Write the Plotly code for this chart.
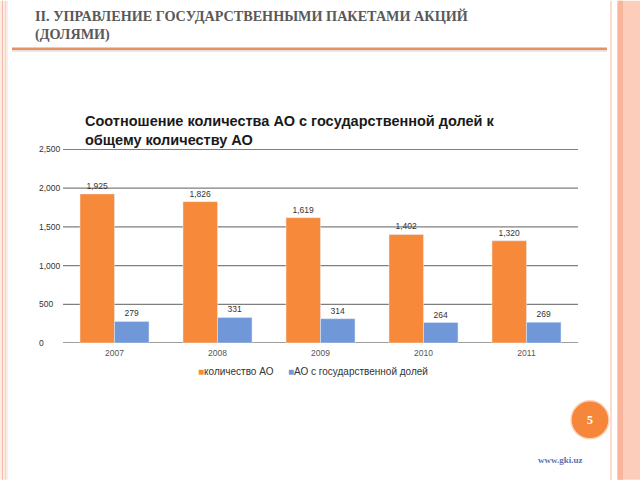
import plotly.graph_objects as go

years = ["2007", "2008", "2009", "2010", "2011"]
total_ao = [1925, 1826, 1619, 1402, 1320]
state_ao = [279, 331, 314, 264, 269]
y_ticks = [0, 500, 1000, 1500, 2000, 2500]
y_tick_text = ["0", "500", "1,000", "1,500", "2,000", "2,500"]
series_names = ["количество АО", "АО с государственной долей"]

W, H = 640, 480
L, R, T, B = 63, 578, 149, 343
YMAX = 2506
T = B - (B - 149) * YMAX / 2500

def px(x):
    return (x - L) / (R - L)

def py(y):
    return (B - y) / (B - T)

ORANGE = "#F7893A"
BLUE = "#7097D8"
colors = [ORANGE, BLUE]

fig = go.Figure()
for name, vals, col in zip(series_names, [total_ao, state_ao], colors):
    fig.add_trace(go.Bar(
        x=years, y=vals, name=name, marker_color=col,
        text=[f"{v:,}" for v in vals], textposition="outside",
        textfont=dict(size=8.5, color="#333333", family="Liberation Sans"),
        cliponaxis=False, showlegend=False,
    ))

annotations = []
shapes = []
for v, t in zip(y_ticks, y_tick_text):
    annotations.append(dict(
        x=px(37), xref="paper", y=v, yref="y", text=t, showarrow=False,
        xanchor="left", yanchor="middle",
        font=dict(size=8.5, color="#333333", family="Liberation Sans"),
    ))
    shapes.append(dict(type="line", xref="paper", yref="y", x0=0, x1=1, y0=v, y1=v,
                       line=dict(color="#7F7F7F", width=1.3), layer="below"))

# legend drawn as text with coloured squares
legend_x = [196, 286]
for name, col, lx in zip(series_names, colors, legend_x):
    annotations.append(dict(
        x=px(lx), xref="paper", y=py(372), yref="paper",
        text=f"<span style='color:{col}'>■</span>{name}",
        showarrow=False, xanchor="left", yanchor="middle",
        font=dict(size=10, color="#333333", family="Liberation Sans"),
    ))

# chart title
annotations.append(dict(
    x=px(83), xref="paper", y=py(110), yref="paper",
    text="<b>Соотношение количества АО с государственной долей к<br>общему количеству АО</b>",
    showarrow=False, xanchor="left", yanchor="top", align="left",
    font=dict(size=14.5, color="#1a1a1a", family="Liberation Sans"),
))
# slide header
annotations.append(dict(
    x=px(33), xref="paper", y=py(5), yref="paper",
    text="<b>II. УПРАВЛЕНИЕ ГОСУДАРСТВЕННЫМИ ПАКЕТАМИ АКЦИЙ<br>(ДОЛЯМИ)</b>",
    showarrow=False, xanchor="left", yanchor="top", align="left",
    font=dict(size=14.2, color="#595959", family="Liberation Serif"),
))
# page number
annotations.append(dict(
    x=px(590), xref="paper", y=py(420), yref="paper", text="<b>5</b>",
    showarrow=False, xanchor="center", yanchor="middle",
    font=dict(size=12, color="white", family="Liberation Serif"),
))
annotations.append(dict(
    x=px(585), xref="paper", y=py(460), yref="paper", text="<b>www.gki.uz</b>",
    showarrow=False, xanchor="right", yanchor="middle",
    font=dict(size=9, color="#5A6FB0", family="Liberation Serif"),
))

def rect(x0, x1, y0, y1, color):
    shapes.append(dict(type="rect", xref="paper", yref="paper",
                       x0=px(x0), x1=px(x1), y0=py(y0), y1=py(y1),
                       fillcolor=color, line=dict(width=0), layer="below"))

# left border
rect(0, 8, 0, 480, "#FDEDE7")
rect(2, 3, 0, 480, "#F5BBA6")
rect(5, 6, 0, 480, "#F8CFC0")
# right border
rect(610, 612, 0, 480, "#FCDCCF")
rect(617, 640, 0, 480, "#FDCDBB")
rect(618, 623, 0, 480, "#F9B59C")
# header line
shapes.append(dict(type="line", xref="paper", yref="paper",
                   x0=px(12), x1=px(607), y0=py(50), y1=py(50),
                   line=dict(color="#E5E0DD", width=2)))
shapes.append(dict(type="line", xref="paper", yref="paper",
                   x0=px(12), x1=px(607), y0=py(48), y1=py(48),
                   line=dict(color="#E8915F", width=2.5)))
# page circle
shapes.append(dict(type="circle", xref="paper", yref="paper",
                   x0=px(571), x1=px(609), y0=py(401), y1=py(439),
                   fillcolor="#F5863A", line=dict(color="#FBD3BC", width=1.5)))

fig.update_layout(
    width=W, height=H, autosize=False,
    margin=dict(l=L, r=W - R, t=T, b=H - B),
    paper_bgcolor="white", plot_bgcolor="rgba(0,0,0,0)",
    barmode="group", bargap=0.33, bargroupgap=0,
    showlegend=False,
    annotations=annotations,
    shapes=shapes,
)
fig.update_yaxes(range=[0, YMAX], showticklabels=False, showgrid=False,
                 zeroline=False, fixedrange=True)
fig.update_xaxes(tickfont=dict(size=8.5, color="#555555", family="Liberation Sans"),
                 showline=False, ticks="", ticklabelstandoff=3, fixedrange=True)

fig.write_html("out.html", config={"displayModeBar": False},
               post_script="document.body.style.margin='0';document.body.style.padding='0';")
